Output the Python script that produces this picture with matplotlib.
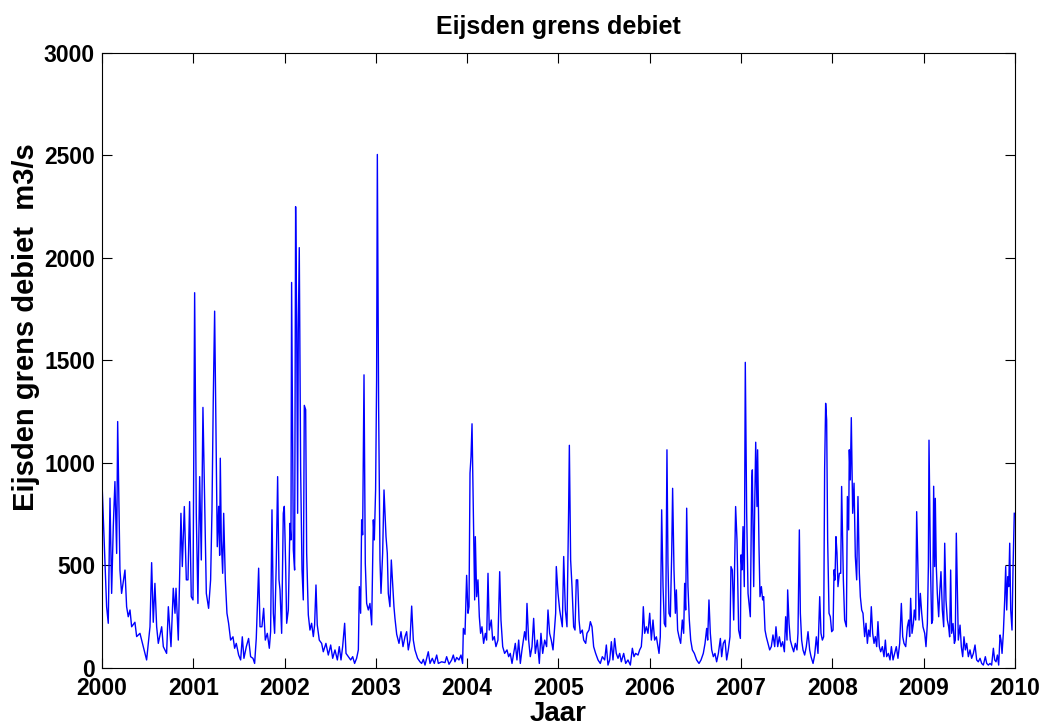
import matplotlib
matplotlib.use("Agg")
import matplotlib.pyplot as plt
import numpy as np

plt.rcParams['font.family'] = ['Liberation Sans', 'DejaVu Sans']
plt.rcParams['font.weight'] = 'bold'

# daggemiddeld debiet Maas bij Eijsden (m3/s), tijd in decimale jaren
t_2000 = [0.000, 0.051, 0.069, 0.088, 0.106, 0.124, 0.142, 0.161, 0.172, 0.197,
          0.215, 0.252, 0.270, 0.288, 0.307, 0.325, 0.361, 0.380, 0.416, 0.453,
          0.489, 0.526, 0.544, 0.562, 0.580, 0.599, 0.617, 0.654, 0.672, 0.708,
          0.727, 0.756, 0.781, 0.800, 0.811, 0.836, 0.865, 0.880, 0.902, 0.924]
q_2000 = [908, 297, 216, 827, 362, 688, 908, 557, 1201, 476,
          362, 476, 297, 248, 281, 199, 221, 151, 167, 102,
          37, 199, 512, 221, 411, 199, 118, 199, 102, 69,
          297, 102, 387, 265, 387, 134, 753, 493, 786, 428]

t_2001 = [0.942, 0.960, 0.978, 0.997, 1.015, 1.033, 1.051, 1.070, 1.088, 1.106,
          1.125, 1.143, 1.168, 1.190, 1.205, 1.219, 1.234, 1.249, 1.263, 1.278,
          1.289, 1.296, 1.307, 1.322, 1.333, 1.351, 1.369, 1.387, 1.409, 1.435,
          1.453, 1.471, 1.497, 1.519, 1.537, 1.555, 1.581, 1.606, 1.628, 1.654,
          1.672, 1.690, 1.716, 1.731, 1.752, 1.771, 1.789, 1.811, 1.833, 1.847,
          1.862, 1.877, 1.891, 1.909, 1.924, 1.939]
q_2001 = [428, 810, 346, 330, 1830, 753, 313, 932, 525, 1270,
          818, 362, 289, 428, 770, 1307, 1740, 1160, 590, 787,
          548, 1022, 623, 460, 753, 428, 265, 216, 134, 150,
          94, 118, 61, 37, 150, 45, 102, 142, 53, 45,
          20, 142, 485, 199, 199, 289, 134, 167, 94, 175,
          770, 265, 167, 509, 932, 428]

t_2002 = [1.950, 1.968, 1.986, 1.997, 2.012, 2.023, 2.041, 2.059, 2.070, 2.077,
          2.096, 2.110, 2.121, 2.132, 2.143, 2.150, 2.161, 2.176, 2.191, 2.205,
          2.216, 2.231, 2.242, 2.260, 2.278, 2.296, 2.315, 2.329, 2.344, 2.358,
          2.380, 2.406, 2.424, 2.453, 2.479, 2.505, 2.527, 2.552, 2.578, 2.599,
          2.618, 2.636, 2.658, 2.673, 2.698, 2.724, 2.746, 2.767, 2.789, 2.808,
          2.819, 2.833, 2.844, 2.855, 2.870, 2.884, 2.899, 2.917, 2.935, 2.954,
          2.972, 2.983, 2.997, 3.008, 3.016, 3.030, 3.045, 3.056, 3.074, 3.089]
q_2002 = [379, 167, 753, 787, 493, 216, 281, 704, 623, 1880,
          574, 476, 2250, 1714, 753, 1633, 2050, 965, 476, 330,
          1280, 1259, 558, 257, 183, 216, 151, 208, 403, 208,
          134, 118, 77, 118, 61, 110, 45, 86, 37, 102,
          37, 102, 216, 69, 53, 37, 53, 20, 45, 86,
          395, 265, 721, 648, 1429, 509, 313, 281, 313, 208,
          721, 623, 867, 1405, 2505, 1274, 525, 362, 558, 867]

t_2003 = [3.111, 3.125, 3.136, 3.154, 3.169, 3.184, 3.198, 3.209, 3.228, 3.253,
          3.275, 3.297, 3.319, 3.337, 3.355, 3.374, 3.392, 3.410, 3.428, 3.457,
          3.483, 3.501, 3.520, 3.538, 3.574, 3.593, 3.618, 3.640, 3.666, 3.684,
          3.720, 3.757, 3.775, 3.801, 3.830, 3.848, 3.866, 3.885, 3.910, 3.932,
          3.950, 3.958, 3.976, 3.994, 4.009, 4.020, 4.031, 4.042, 4.053]
q_2003 = [639, 558, 362, 297, 525, 411, 297, 240, 162, 118,
          175, 102, 151, 175, 86, 134, 300, 134, 86, 45,
          28, 20, 40, 12, 77, 20, 45, 20, 61, 20,
          28, 24, 53, 16, 37, 61, 28, 49, 37, 61,
          20, 191, 162, 450, 265, 297, 949, 1030, 1190]

t_2004 = [4.071, 4.082, 4.089, 4.104, 4.118, 4.133, 4.147, 4.162, 4.180, 4.199,
          4.213, 4.228, 4.242, 4.264, 4.279, 4.297, 4.315, 4.337, 4.356, 4.370,
          4.389, 4.410, 4.436, 4.454, 4.472, 4.491, 4.509, 4.527, 4.545, 4.564,
          4.582, 4.600, 4.629, 4.644, 4.655, 4.673, 4.691, 4.710, 4.728, 4.746,
          4.768, 4.790, 4.808, 4.827, 4.849, 4.870, 4.885, 4.903, 4.921, 4.940,
          4.958, 4.969]
q_2004 = [639, 330, 639, 346, 428, 248, 167, 199, 118, 167,
          134, 460, 183, 232, 134, 151, 102, 134, 468, 232,
          102, 69, 86, 53, 69, 20, 69, 118, 37, 134,
          20, 86, 175, 134, 313, 134, 53, 102, 240, 69,
          134, 20, 167, 69, 134, 102, 281, 167, 134, 86,
          199, 265]

t_2005 = [4.976, 4.995, 5.013, 5.031, 5.042, 5.057, 5.075, 5.093, 5.111, 5.119,
          5.133, 5.148, 5.166, 5.181, 5.195, 5.210, 5.225, 5.239, 5.261, 5.276,
          5.298, 5.312, 5.334, 5.349, 5.367, 5.385, 5.407, 5.433, 5.458, 5.480,
          5.506, 5.524, 5.542, 5.561, 5.579, 5.597, 5.615, 5.633, 5.652, 5.670,
          5.688, 5.714, 5.736, 5.761, 5.787, 5.809, 5.827, 5.845, 5.871, 5.889,
          5.907, 5.918, 5.929, 5.944, 5.962, 5.980, 5.999, 6.017, 6.035, 6.053,
          6.072]
q_2005 = [493, 362, 281, 232, 199, 542, 281, 199, 770, 1085,
          525, 395, 199, 183, 428, 428, 232, 167, 183, 134,
          118, 167, 183, 224, 199, 102, 69, 37, 20, 53,
          37, 110, 12, 37, 126, 37, 142, 69, 45, 69,
          28, 69, 20, 37, 12, 94, 53, 69, 61, 86,
          102, 167, 297, 167, 199, 167, 265, 134, 232, 134,
          150]

t_2006 = [6.101, 6.115, 6.130, 6.145, 6.159, 6.174, 6.188, 6.199, 6.210, 6.225,
          6.240, 6.250, 6.265, 6.280, 6.291, 6.305, 6.320, 6.338, 6.356, 6.371,
          6.382, 6.393, 6.404, 6.418, 6.433, 6.448, 6.466, 6.488, 6.513, 6.539,
          6.561, 6.586, 6.605, 6.623, 6.634, 6.648, 6.663, 6.678, 6.696, 6.714,
          6.732, 6.751, 6.773, 6.787, 6.805, 6.824, 6.842, 6.860, 6.878, 6.889,
          6.904, 6.919, 6.940]
q_2006 = [69, 150, 770, 395, 215, 199, 1063, 509, 265, 248,
          558, 875, 476, 265, 379, 183, 150, 118, 232, 167,
          411, 281, 778, 395, 232, 134, 86, 69, 37, 20,
          37, 69, 118, 191, 134, 330, 167, 86, 53, 69,
          28, 69, 142, 53, 118, 134, 37, 86, 150, 493,
          476, 232, 786]

t_2007 = [6.955, 6.973, 6.992, 6.999, 7.010, 7.021, 7.035, 7.046, 7.061, 7.076,
          7.090, 7.101, 7.116, 7.123, 7.138, 7.149, 7.160, 7.174, 7.181, 7.196,
          7.207, 7.222, 7.236, 7.247, 7.262, 7.276, 7.295, 7.313, 7.331, 7.349,
          7.368, 7.382, 7.401, 7.419, 7.437, 7.455, 7.474, 7.488, 7.503, 7.510,
          7.525, 7.539, 7.558, 7.576, 7.594, 7.612, 7.623, 7.638, 7.649, 7.663,
          7.678, 7.696, 7.714, 7.733, 7.751, 7.766, 7.788, 7.806, 7.824, 7.842,
          7.861, 7.875, 7.890, 7.904, 7.915, 7.926, 7.937, 7.948, 7.963, 7.977,
          7.992, 8.007, 8.018, 8.028, 8.039, 8.050, 8.061, 8.076, 8.091]
q_2007 = [623, 183, 142, 550, 477, 688, 395, 1490, 753, 362,
          297, 248, 900, 965, 395, 786, 1100, 786, 1063, 590,
          346, 395, 330, 346, 183, 150, 118, 86, 102, 159,
          102, 199, 102, 150, 102, 126, 77, 248, 134, 379,
          216, 134, 102, 77, 118, 86, 167, 672, 265, 134,
          86, 61, 102, 175, 86, 53, 20, 61, 150, 69,
          346, 167, 134, 150, 973, 1290, 1209, 623, 265, 248,
          175, 183, 477, 427, 639, 560, 395, 460, 460]

t_2008 = [8.101, 8.120, 8.134, 8.153, 8.164, 8.178, 8.185, 8.196, 8.207, 8.222,
          8.237, 8.251, 8.266, 8.280, 8.295, 8.306, 8.321, 8.335, 8.353, 8.368,
          8.383, 8.397, 8.412, 8.426, 8.441, 8.456, 8.470, 8.485, 8.499, 8.514,
          8.529, 8.547, 8.565, 8.580, 8.594, 8.613, 8.631, 8.646, 8.664, 8.682,
          8.700, 8.718, 8.737, 8.755, 8.770, 8.784, 8.803, 8.821, 8.836, 8.846,
          8.857, 8.872, 8.887, 8.897, 8.912, 8.923, 8.938, 8.949, 8.963, 8.978,
          8.992, 9.011, 9.025]
q_2008 = [884, 428, 232, 199, 835, 672, 1063, 916, 1220, 753,
          900, 542, 428, 835, 460, 346, 281, 265, 151, 216,
          118, 183, 151, 297, 167, 118, 151, 102, 224, 102,
          77, 102, 53, 134, 53, 69, 37, 102, 37, 69,
          102, 45, 118, 313, 151, 118, 102, 199, 232, 151,
          338, 167, 216, 281, 232, 761, 460, 232, 362, 265,
          199, 167, 102]

t_2009 = [9.040, 9.051, 9.058, 9.073, 9.087, 9.098, 9.109, 9.120, 9.127, 9.138,
          9.149, 9.164, 9.175, 9.189, 9.204, 9.219, 9.230, 9.244, 9.259, 9.273,
          9.284, 9.295, 9.306, 9.321, 9.336, 9.346, 9.357, 9.368, 9.379, 9.398,
          9.412, 9.427, 9.441, 9.456, 9.471, 9.489, 9.507, 9.525, 9.544, 9.562,
          9.580, 9.598, 9.617, 9.635, 9.653, 9.675, 9.690, 9.708, 9.726, 9.744,
          9.763, 9.777, 9.792, 9.807, 9.821, 9.836, 9.847, 9.858, 9.872, 9.887,
          9.898, 9.909, 9.920, 9.931, 9.942, 9.953, 9.967, 9.978, 9.992]
q_2009 = [215, 493, 1110, 525, 215, 232, 885, 493, 826, 493,
          362, 248, 362, 468, 281, 199, 607, 330, 232, 199,
          150, 476, 167, 215, 118, 134, 656, 395, 134, 207,
          102, 53, 150, 86, 118, 53, 86, 45, 69, 110,
          37, 28, 45, 20, 12, 53, 20, 12, 20, 12,
          94, 37, 28, 61, 12, 159, 134, 69, 167, 330,
          493, 281, 443, 395, 607, 281, 183, 476, 753]

jaar = np.concatenate([t_2000, t_2001, t_2002, t_2003, t_2004,
                       t_2005, t_2006, t_2007, t_2008, t_2009]) + 2000
debiet = np.concatenate([q_2000, q_2001, q_2002, q_2003, q_2004,
                         q_2005, q_2006, q_2007, q_2008, q_2009])

fig = plt.figure(figsize=(10.49, 7.27), dpi=100)
ax = fig.add_axes([0.0972, 0.0818, 0.8704, 0.8452])
ax.plot(jaar, debiet, color='#0000ff', linewidth=1.0)

ax.set_xlim(2000, 2010)
ax.set_ylim(0, 3000)
ax.set_xticks(np.arange(2000, 2011, 1))
ax.set_yticks(np.arange(0, 3001, 500))
ax.tick_params(direction='in', top=True, right=True, length=7, width=0.8,
               labelsize=16.5)
ax.tick_params(axis='x', pad=7)
ax.tick_params(axis='y', pad=5)
for lbl in ax.get_xticklabels() + ax.get_yticklabels():
    lbl.set_fontweight('bold')
for sp in ax.spines.values():
    sp.set_linewidth(0.8)

ax.set_title('Eijsden grens debiet', fontsize=18, fontweight='bold', pad=14)
ax.set_xlabel('Jaar', fontsize=20, fontweight='bold')
ax.set_ylabel('Eijsden grens debiet  m3/s', fontsize=21, fontweight='bold')
ax.xaxis.set_label_coords(0.5, -0.054)
ax.yaxis.set_label_coords(-0.068, 0.554)

fig.savefig('out.png', dpi=100)
